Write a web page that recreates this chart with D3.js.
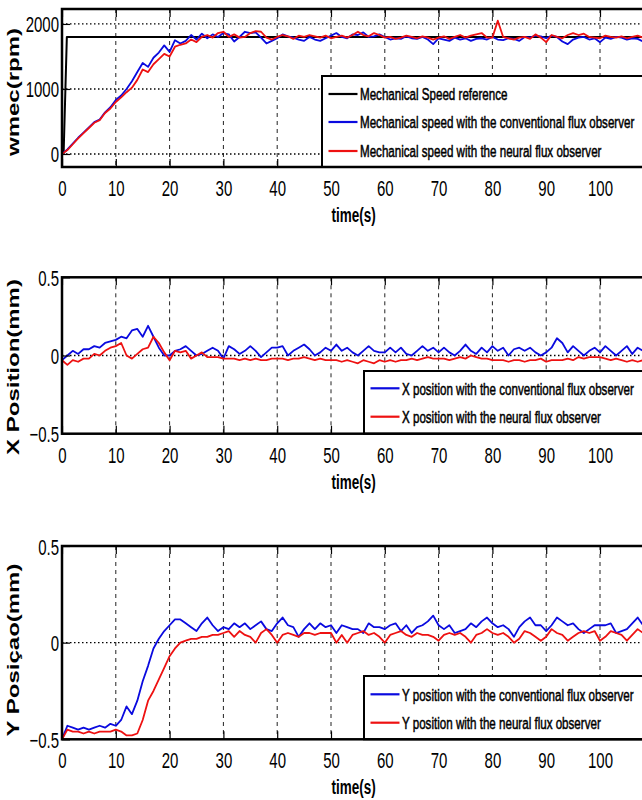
<!DOCTYPE html>
<html><head><meta charset="utf-8">
<script src="https://cdn.jsdelivr.net/npm/d3@7"></script>
<style>body{margin:0;background:#fff;overflow:hidden} svg{display:block}</style>
</head><body>
<script>
// ---------- data ----------
const xTicks = [0,10,20,30,40,50,60,70,80,90,100,110];
const xTickLabelsShown = [0,10,20,30,40,50,60,70,80,90,100];
const speedTicks = [0,1000,2000];
const posTicks = [-0.5,0,0.5];
const sampleTimes = d3.range(0,111); // one sample per second
const speedRefTimes = [0,0.3,0.9,120];
const speedRef = [0,0,1800,1800];
const speedConv = [0,70,160,250,330,410,490,530,640,720,830,
900,1000,1120,1260,1400,1340,1480,1560,1670,1570,
1750,1700,1740,1830,1760,1850,1780,1840,1800,1860,
1840,1730,1800,1880,1860,1870,1790,1700,1740,1780,
1840,1810,1790,1760,1740,1800,1760,1740,1780,1820,
1860,1800,1780,1840,1830,1870,1800,1810,1840,1800,
1760,1780,1770,1810,1780,1770,1800,1760,1690,1780,
1760,1740,1790,1760,1780,1740,1770,1780,1760,1800,
1760,1750,1780,1770,1740,1800,1790,1820,1810,1780,
1820,1800,1730,1690,1760,1790,1800,1760,1780,1720,
1790,1770,1800,1790,1760,1780,1770,1730,1760,1780];
const speedNeural = [0,60,150,240,320,400,480,520,630,700,800,
870,950,1020,1140,1300,1260,1380,1460,1540,1500,
1650,1680,1700,1760,1720,1800,1830,1790,1860,1880,
1800,1840,1790,1800,1860,1890,1880,1790,1760,1800,
1830,1810,1770,1820,1800,1830,1810,1790,1820,1780,
1800,1820,1790,1830,1880,1830,1810,1860,1830,1790,
1800,1770,1790,1820,1800,1780,1810,1790,1760,1790,
1810,1770,1800,1830,1790,1820,1840,1860,1790,1790,
2050,1800,1780,1760,1790,1800,1770,1840,1790,1720,
1830,1800,1780,1830,1860,1830,1850,1800,1790,1780,
1820,1800,1790,1810,1780,1800,1820,1790,1800,1780];
const xPosConv = [-0.03,0.0,0.03,0.01,0.04,0.04,0.06,0.05,0.08,0.09,0.10,
0.12,0.11,0.16,0.17,0.12,0.19,0.12,0.05,0.0,0.0,
0.03,0.04,0.06,0.03,0.0,0.01,0.03,0.05,0.03,-0.02,
0.06,0.04,0.01,0.03,0.06,0.03,-0.01,0.02,0.05,0.05,
0.06,0.0,0.03,0.05,0.07,0.04,0.0,0.02,0.05,0.03,
0.07,0.03,0.05,0.02,0.0,0.03,0.06,0.03,0.02,0.02,
0.05,0.02,0.05,0.01,0.0,0.03,0.06,0.03,0.05,0.02,
0.05,0.02,0.0,0.03,0.07,0.03,0.01,0.05,0.02,0.06,
0.03,0.05,0.0,0.04,0.05,0.03,0.05,0.02,0.0,0.02,
0.05,0.11,0.08,0.02,0.06,0.03,0.0,0.03,0.05,0.02,
0.06,0.03,0.0,0.03,0.06,0.01,0.05,0.03,0.01,0.03];
const xPosNeural = [-0.03,-0.06,-0.03,-0.04,-0.02,-0.02,0.01,0.0,0.03,0.05,0.06,
0.08,0.0,-0.02,0.01,0.04,0.05,0.12,0.08,0.02,-0.03,
0.03,0.02,0.03,-0.02,0.0,0.02,-0.01,-0.01,-0.01,-0.02,
-0.02,-0.02,-0.03,-0.02,-0.03,-0.02,-0.03,-0.03,-0.02,-0.02,
-0.02,-0.03,-0.02,-0.02,-0.01,-0.02,-0.03,-0.02,-0.03,-0.03,
-0.03,-0.04,-0.03,-0.04,-0.05,-0.03,-0.04,-0.05,-0.03,-0.04,
-0.03,-0.04,-0.03,-0.03,-0.02,-0.03,-0.02,-0.01,-0.02,-0.02,
-0.02,-0.03,-0.02,-0.01,-0.02,0.0,-0.01,-0.02,-0.02,-0.03,
-0.03,-0.03,-0.04,-0.03,-0.03,-0.04,-0.03,-0.03,-0.02,-0.04,
-0.03,-0.03,-0.03,-0.02,-0.03,-0.01,-0.02,-0.01,-0.01,-0.01,
-0.02,-0.03,-0.02,-0.03,-0.04,-0.03,-0.04,-0.03,-0.03,-0.04];
const yPosConv = [-0.5,-0.43,-0.44,-0.45,-0.44,-0.45,-0.44,-0.43,-0.44,-0.42,-0.43,
-0.40,-0.33,-0.37,-0.30,-0.20,-0.12,-0.03,0.02,0.06,0.09,
0.12,0.12,0.10,0.08,0.06,0.10,0.13,0.09,0.06,0.08,
0.07,0.10,0.08,0.10,0.07,0.09,0.11,0.07,0.06,0.10,
0.13,0.09,0.08,0.03,0.07,0.10,0.07,0.10,0.08,0.09,
0.05,0.09,0.08,0.07,0.07,0.05,0.10,0.08,0.08,0.07,
0.09,0.10,0.06,0.09,0.05,0.08,0.09,0.11,0.14,0.09,
0.07,0.09,0.05,0.06,0.07,0.10,0.08,0.11,0.13,0.10,
0.08,0.09,0.07,0.03,0.08,0.11,0.13,0.09,0.09,0.06,
0.09,0.13,0.11,0.09,0.10,0.07,0.05,0.07,0.09,0.09,
0.09,0.10,0.05,0.06,0.07,0.10,0.13,0.09,0.08,0.07];
const yPosNeural = [-0.5,-0.45,-0.46,-0.46,-0.47,-0.46,-0.47,-0.46,-0.46,-0.46,-0.45,
-0.46,-0.48,-0.48,-0.47,-0.40,-0.30,-0.25,-0.19,-0.13,-0.07,
-0.03,0.0,0.01,0.02,0.02,0.03,0.03,0.04,0.04,0.05,
0.06,0.03,0.06,0.04,0.03,0.0,0.05,0.07,0.04,0.0,
0.04,0.05,0.04,0.03,0.05,0.05,0.04,0.05,0.05,0.05,
0.0,0.04,0.0,0.04,0.05,0.06,0.04,0.05,0.03,0.0,
0.04,0.05,0.06,0.04,0.03,0.05,0.04,0.04,0.03,0.01,
0.04,0.05,0.04,0.05,0.03,0.0,0.04,0.05,0.07,0.05,
0.04,0.05,0.03,0.0,0.02,0.06,0.05,0.03,0.01,0.03,
0.07,0.05,0.04,0.01,0.03,0.05,0.06,0.05,0.06,0.01,
0.03,0.06,0.05,0.04,0.01,0.04,0.07,0.05,0.04,0.05];

const speedLabels = ["Mechanical Speed reference","Mechanical speed with the conventional flux observer","Mechanical speed with the neural flux observer"];
const xLabels = ["X position with the conventional flux observer","X position with the neural flux observer"];
const yLabels = ["Y position with the conventional flux observer","Y position with the neural flux observer"];
const xAxisTitle = "time(s)";

// ---------- layout ----------
const W = 642, H = 800;
const BLACK = "#000", BLUE = "#0a0adf", RED = "#ee1111";
const FONT = "'Liberation Sans', Arial, Helvetica, sans-serif";
const SY = 1.5; // vertical stretch of the original bitmap text

const svg = d3.select("body").append("svg").attr("width", W).attr("height", H)
  .style("font-family", FONT);

const x = d3.scaleLinear().domain([0,120]).range([62, 62 + 120*5.38]);

const panels = [
  {top:9, bottom:167, domain:[-200,2230], ticks:speedTicks, grid:[0,1000,2000],
   title:"wmec(rpm)", titleY:92,
   series:[
     {t:speedRefTimes, v:speedRef, color:BLACK, w:2, label:speedLabels[0]},
     {t:sampleTimes, v:speedConv, color:BLUE, w:1.8, label:speedLabels[1]},
     {t:sampleTimes, v:speedNeural, color:RED, w:1.8, label:speedLabels[2]}],
   legend:{left:322, top:76, rows:[94,122,151]}},
  {top:277.3, bottom:433.7, domain:[-0.5,0.5], ticks:posTicks, grid:[0],
   title:"X Position(mm)", titleY:367,
   series:[
     {t:sampleTimes, v:xPosConv, color:BLUE, w:1.8, label:xLabels[0]},
     {t:sampleTimes, v:xPosNeural, color:RED, w:1.8, label:xLabels[1]}],
   legend:{left:364, top:371, rows:[388.3,416.7]}},
  {top:546, bottom:739.3, domain:[-0.5,0.5], ticks:posTicks, grid:[0],
   title:"Y Posiçao(mm)", titleY:650,
   series:[
     {t:sampleTimes, v:yPosConv, color:BLUE, w:1.8, label:yLabels[0]},
     {t:sampleTimes, v:yPosNeural, color:RED, w:1.8, label:yLabels[1]}],
   legend:{left:364, top:676, rows:[694.3,722.7]}}
];

panels.forEach((p, pi) => {
  const y = d3.scaleLinear().domain(p.domain).range([p.bottom, p.top]);
  const g = svg.append("g");
  const x0 = x.range()[0], x1 = x.range()[1];

  const cid = "clip" + pi;
  svg.append("clipPath").attr("id", cid).append("rect")
    .attr("x", x0).attr("y", p.top).attr("width", x1 - x0).attr("height", p.bottom - p.top);

  // vertical dashed grid
  g.append("g").selectAll("line").data(xTicks.filter(d => d > 0)).join("line")
    .attr("x1", d => x(d)).attr("x2", d => x(d)).attr("y1", p.top).attr("y2", p.bottom)
    .attr("stroke", "#222").attr("stroke-width", 1).attr("stroke-dasharray", "4,4");
  // horizontal dotted grid
  g.append("g").selectAll("line").data(p.grid).join("line")
    .attr("x1", x0).attr("x2", x1).attr("y1", d => y(d)).attr("y2", d => y(d))
    .attr("stroke", "#000").attr("stroke-width", 1.3).attr("stroke-dasharray", "1.5,2.5");

  // data lines
  const line = d3.line().x(d => x(d[0])).y(d => y(d[1]));
  const lg = g.append("g").attr("clip-path", `url(#${cid})`);
  p.series.forEach(s => {
    lg.append("path").datum(s.t.map((t, i) => [t, s.v[i]]))
      .attr("d", line).attr("fill", "none").attr("stroke", s.color)
      .attr("stroke-width", s.w).attr("stroke-linejoin", "round");
  });

  // axes (ticks inward)
  const ax = g.append("g").attr("transform", `translate(0,${p.bottom})`)
    .call(d3.axisBottom(x).tickValues(xTicks).tickSizeInner(-8).tickSizeOuter(0)
      .tickFormat(d => xTickLabelsShown.includes(d) ? String(d) : ""));
  ax.select(".domain").remove();
  ax.selectAll(".tick line").attr("stroke-width", 1.2);
  ax.selectAll(".tick text").attr("y", null).attr("dy", null)
    .attr("transform", `translate(0,29) scale(1,${SY})`)
    .attr("font-size", 15).attr("font-family", FONT).attr("fill", "#000");

  const axTop = g.append("g").attr("transform", `translate(0,${p.top})`)
    .call(d3.axisTop(x).tickValues(xTicks).tickSizeInner(-8).tickSizeOuter(0).tickFormat(""));
  axTop.select(".domain").remove();
  axTop.selectAll(".tick line").attr("stroke-width", 1.2);

  const ay = g.append("g").attr("transform", `translate(${x0},0)`)
    .call(d3.axisLeft(y).tickValues(p.ticks).tickSizeInner(-8).tickSizeOuter(0)
      .tickFormat(d => d3.format("")(d)));
  ay.select(".domain").remove();
  ay.selectAll(".tick line").attr("stroke-width", 1.2);
  ay.selectAll(".tick text").attr("x", null).attr("dy", null)
    .attr("transform", `translate(-3,8) scale(1,${SY})`)
    .attr("font-size", 15).attr("font-family", FONT).attr("fill", "#000");

  // x title
  g.append("text").attr("text-anchor", "middle").attr("font-weight", "bold")
    .attr("font-size", 13.5)
    .attr("transform", `translate(${x(54.2)},${p.bottom + 55}) scale(1,${SY})`)
    .text(xAxisTitle);

  // y title (rotated, stretched along its length)
  g.append("text").attr("text-anchor", "middle").attr("font-weight", "bold")
    .attr("font-size", 16)
    .attr("transform", `translate(19,${p.titleY}) rotate(-90) scale(${SY},1)`)
    .text(p.title);

  // legend
  const L = p.legend;
  const leg = g.append("g");
  leg.append("rect").attr("x", L.left).attr("y", L.top)
    .attr("width", 400).attr("height", p.bottom - L.top)
    .attr("fill", "#fff").attr("stroke", "#000").attr("stroke-width", 2);
  p.series.forEach((s, i) => {
    const ry = L.rows[i];
    leg.append("line").attr("x1", L.left + 6.5).attr("x2", L.left + 35.5)
      .attr("y1", ry).attr("y2", ry).attr("stroke", s.color).attr("stroke-width", 2.2);
    leg.append("text").attr("font-size", 11.6)
      .attr("stroke", "#000").attr("stroke-width", 0.35)
      .attr("transform", `translate(${L.left + 38},${ry + 6.2}) scale(1,${SY})`)
      .text(s.label);
  });

  // frame
  g.append("rect").attr("x", x0).attr("y", p.top)
    .attr("width", x1 - x0).attr("height", p.bottom - p.top)
    .attr("fill", "none").attr("stroke", "#000").attr("stroke-width", 2.5);
});
</script>
</body></html>
